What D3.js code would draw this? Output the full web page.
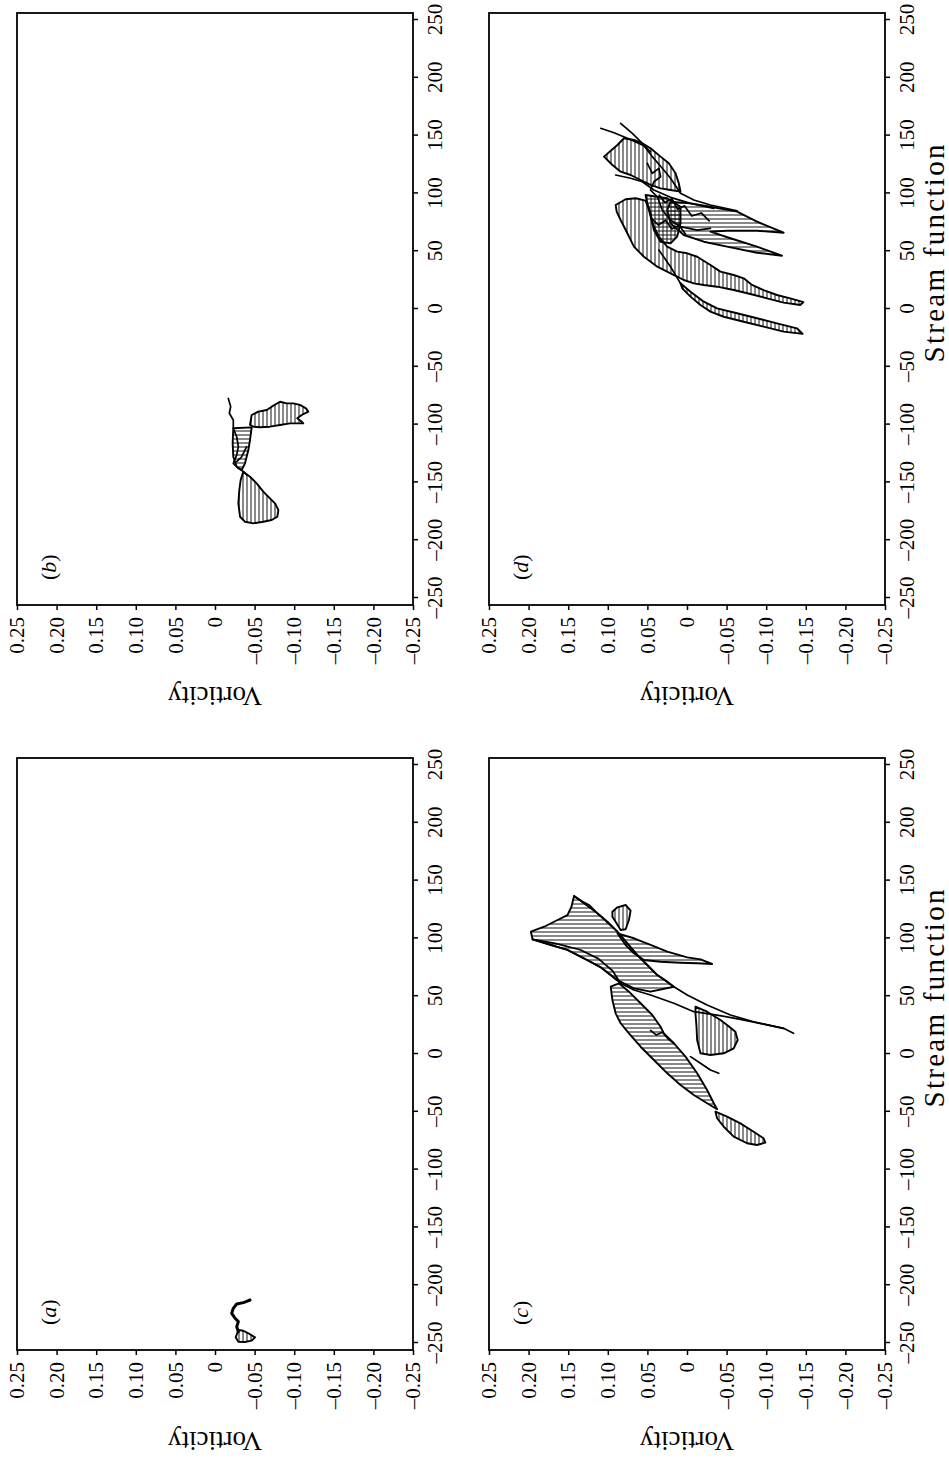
<!DOCTYPE html>
<html>
<head>
<meta charset="utf-8">
<script src="https://cdn.jsdelivr.net/npm/d3@7"></script>
<style>
  html, body { margin: 0; padding: 0; background: #fff; }
  svg { display: block; }
  text { font-family: "Liberation Serif", "Times New Roman", serif; fill: #000; }
</style>
</head>
<body>
<script>
// Axis ticks shared by all four panels
const streamTicks = [-250, -200, -150, -100, -50, 0, 50, 100, 150, 200, 250];
const vorticityTicks = [0.25, 0.20, 0.15, 0.10, 0.05, 0, -0.05, -0.10, -0.15, -0.20, -0.25];
const panelLetters = ["a", "b", "c", "d"];

// Each region is an outline of [stream function, vorticity] points; hatch direction per region
// ("h" = lines of constant vorticity, "v" = lines of constant stream function, "x" = both)

// (a)
const regionsA = [
  [[-238.8,-0.0295],[-239.4,-0.0358],[-241.6,-0.0421],[-245.1,-0.0505],[-248,-0.0463],[-249.1,-0.0379],[-248.9,-0.0295],[-245.1,-0.0261]]
];
const hatchA = ["h"];
const tracesA = [
  [[-212.8,-0.0442],[-214,-0.0400],[-215.1,-0.0358],[-216.3,-0.0274],[-220,-0.0231],[-224.3,-0.0211],[-228.6,-0.0253],[-231.5,-0.0295],[-235.9,-0.0274],[-240.2,-0.0295]]
];

// (b)
const regionsB = [
  [[-100.3,-0.0442],[-91.7,-0.0463],[-88.8,-0.0547],[-87.4,-0.0653],[-84.5,-0.0716],[-80.2,-0.0821],[-81.6,-0.0905],[-81.6,-0.0989],[-83,-0.1073],[-85.9,-0.1149],[-88.8,-0.1178],[-91.7,-0.1095],[-94.6,-0.1039],[-97.5,-0.1095],[-98.9,-0.1115],[-98.9,-0.1031],[-98.9,-0.0947],[-100.3,-0.0821],[-101.8,-0.0694],[-102.3,-0.0568],[-101.8,-0.0484]],
  [[-103.2,-0.0231],[-102.4,-0.0463],[-113.3,-0.0442],[-122,-0.0421],[-133.5,-0.0379],[-139.3,-0.0337],[-136.4,-0.0274],[-127.8,-0.0231],[-116.2,-0.0223]],
  [[-140.7,-0.0358],[-145.1,-0.0442],[-150.8,-0.0526],[-158,-0.061],[-163.8,-0.0694],[-168.1,-0.0758],[-173.9,-0.08],[-179.7,-0.0787],[-182.5,-0.0716],[-184,-0.061],[-185.4,-0.0484],[-184,-0.0379],[-179.7,-0.0316],[-168.1,-0.0295],[-156.6,-0.0307],[-148,-0.0324]]
];
const hatchB = ["h", "v", "h"];
const tracesB = [
  [[-77.3,-0.0168],[-84.5,-0.0198],[-90.2,-0.0181],[-96,-0.0231],[-103.2,-0.0231],[-110.5,-0.0274],[-119.1,-0.0295],[-126.3,-0.0274],[-133.5,-0.0231],[-137.8,-0.0295],[-140.7,-0.0358],[-143.6,-0.04]],
  [[-119.1,-0.04],[-127.8,-0.0337],[-132.1,-0.0274]]
];

// (c)
const regionsC = [
  [[105.8,0.1971],[110.1,0.1803],[115.9,0.1635],[120.2,0.1509],[127.4,0.1459],[136.7,0.1426],[131.8,0.132],[128.9,0.1237],[121.7,0.1131],[114.4,0.1005],[105.8,0.0879],[95.8,0.0753],[85.6,0.0627],[77,0.0501],[68.3,0.0375],[62.6,0.0249],[58.2,0.0166],[53.9,0.046],[56.8,0.067],[64,0.0879],[75,0.1089],[82.8,0.13],[90,0.1509],[94.3,0.1719],[99.2,0.195]],
  [[104.4,0.0879],[100.1,0.067],[94.3,0.046],[88.5,0.0249],[83.6,-0.0003],[81.9,-0.017],[77.9,-0.0317],[78.5,-0.0128],[79,0.0082],[79.8,0.0334],[81.3,0.0544],[87.1,0.067],[94.3,0.0775]],
  [[123.1,0.0942],[126.9,0.0879],[128.9,0.0775],[124,0.0712],[115.9,0.0733],[107.9,0.0775],[107.3,0.0838],[114.4,0.0901],[118.8,0.0942]],
  [[58.2,0.0963],[61.2,0.0859],[53.9,0.0733],[43.9,0.0586],[33.7,0.0438],[23.6,0.0334],[17.9,0.0292],[9.3,0.0166],[-2.3,0.0019],[-16.7,-0.0128],[-31.1,-0.0254],[-42.6,-0.0338],[-47.8,-0.038],[-42.6,-0.0254],[-35.5,-0.0086],[-26.8,0.0082],[-16.7,0.0249],[-5.2,0.0418],[6.3,0.0586],[17.9,0.0733],[26.6,0.0838],[35.2,0.0901],[46.7,0.0942]],
  [[-49.9,-0.0359],[-54.2,-0.0506],[-60,-0.0674],[-67.2,-0.0841],[-72.9,-0.0967],[-76.7,-0.0989],[-78.7,-0.0884],[-77.2,-0.0758],[-71.5,-0.059],[-62.9,-0.0464],[-55.6,-0.038]],
  [[40.9,-0.0107],[36.6,-0.0254],[29.4,-0.0422],[25.1,-0.0506],[19.3,-0.0611],[12.1,-0.064],[4.9,-0.059],[0.6,-0.0464],[-0.9,-0.0296],[0.6,-0.017],[12.1,-0.0128],[23.6,-0.012],[35.2,-0.0107]]
];
const hatchC = ["v", "v", "h", "v", "h", "h"];
const tracesC = [
  [[99.2,0.195],[90,0.1509],[75,0.1089],[61.2,0.0838],[55.4,0.067],[51,0.046],[43.9,0.0166],[36.6,-0.0086],[33.7,-0.038],[30,-0.0674],[25.9,-0.0967],[22.2,-0.1219],[17.9,-0.1345]],
  [[136.7,0.1426],[121.7,0.1131],[105.8,0.0879],[85.6,0.0627],[68.3,0.0375],[58.2,0.0166],[51,-0.0003],[42.4,-0.0254],[33.7,-0.0548],[27.9,-0.0841],[22.2,-0.1219]],
  [[99.2,0.195],[95.5,0.165],[90.2,0.135],[82.5,0.112],[72,0.094],[61.2,0.0838]],
  [[-2.3,-0.0044],[-8,-0.017],[-13.8,-0.0296],[-16.7,-0.0401]],
  [[20.5,0.046],[16.5,0.039],[18.8,0.031],[13.2,0.024],[9.3,0.0166]]
];

// (d)
const regionsD = [
  [[131.8,0.1048],[141.9,0.0879],[147.7,0.0796],[146.2,0.067],[143.3,0.0564],[139,0.046],[131.8,0.0334],[126,0.0229],[117.4,0.0145],[108.7,0.0103],[101.5,0.0082],[102.9,0.0208],[104.4,0.0334],[107.3,0.046],[111.6,0.0586],[115.9,0.0712],[118.8,0.0838],[124.6,0.0942]],
  [[90,0.0901],[94.9,0.0775],[95.8,0.0649],[93.7,0.0523],[85.6,0.0481],[74.1,0.0438],[62.6,0.0355],[53.9,0.025],[49.6,0.0124],[48.2,-0.0003],[45.2,-0.0129],[38.1,-0.0296],[32.3,-0.0422],[29.4,-0.059],[26.5,-0.0716],[20.8,-0.0821],[16.4,-0.0967],[12.1,-0.1136],[9.2,-0.1304],[6,-0.147],[3.5,-0.143],[5.5,-0.122],[9.2,-0.101],[13,-0.08],[16.4,-0.059],[19.3,-0.038],[20.8,-0.0212],[22.2,-0.0086],[25.1,0.004],[30.9,0.0208],[36.6,0.0375],[45.2,0.0544],[53.9,0.067],[65.5,0.0753],[77,0.0838],[84.2,0.0888]],
  [[22.2,0.0082],[15,-0.0044],[6.3,-0.0212],[0.6,-0.038],[-3.7,-0.0632],[-8,-0.0884],[-12.4,-0.1136],[-16.7,-0.1388],[-21.5,-0.146],[-19.6,-0.122],[-15.3,-0.0967],[-11,-0.0716],[-6.7,-0.0464],[-2.3,-0.0296],[3.5,-0.017],[10.7,-0.0044],[17.9,0.006]],
  [[92.8,0.0208],[91.4,-0.0044],[88.5,-0.0296],[84.2,-0.0632],[75.5,-0.0884],[66,-0.122],[67.7,-0.0884],[67.7,-0.0506],[66.9,-0.0296],[61.2,-0.0548],[53.9,-0.0884],[46.1,-0.1199],[48.7,-0.0884],[53.9,-0.0506],[58.2,-0.0212],[64,0.004],[74.1,0.0208],[85.6,0.025]],
  [[98.6,0.0523],[95.8,0.025],[88.5,0.0082],[74.1,0.0082],[62.6,0.0124],[56.8,0.0208],[58.2,0.0334],[68.3,0.0418],[82.8,0.046],[91.4,0.0501]]
];
const hatchD = ["h", "h", "h", "v", "x"];
const tracesD = [
  [[156.3,0.1089],[152.5,0.0922],[147.7,0.0753],[141.9,0.0564],[136.1,0.046]],
  [[160.6,0.0838],[152,0.069],[143.3,0.0564],[131.8,0.0438],[121.7,0.0312],[113.1,0.0208],[100.1,0.0082],[94.3,-0.0086],[90,-0.0296],[85,-0.0632]],
  [[115.9,0.0901],[113.1,0.0712],[110.1,0.0564],[102.9,0.0418],[96.6,0.0208],[91.4,-0.0044],[87.1,-0.0338]],
  [[126,0.0501],[117.4,0.0438],[121.7,0.0355],[114.4,0.0334],[110.1,0.0418],[102.9,0.046],[97.1,0.0375],[85.6,0.0312],[77,0.0208],[71.2,0.0082],[68.3,-0.0129],[69.8,-0.0296]],
  [[51,0.0355],[36.6,0.0208],[22.2,0.0082]],
  [[98.5,0.035],[92.1,0.028],[95.3,0.019],[86.4,0.012],[89.2,0.003],[80.5,-0.006],[83.1,-0.018],[76.2,-0.028]],
  [[78.4,0.045],[72.6,0.036],[76.8,0.027],[69.3,0.019],[72.5,0.010],[64.8,0.002]]
];

// ---------------------------------------------------------------
// The figure is laid out landscape (stream function across, vorticity up)
// and then turned a quarter turn counter-clockwise onto the portrait page.
const pageW = 949, pageH = 1458;
const panelW = 592, panelH = 396;
const colX = [108, 853], rowY = [17, 489];

const panels = [
  { letter: panelLetters[0], col: 0, row: 0, regions: regionsA, hatch: hatchA, traces: tracesA },
  { letter: panelLetters[1], col: 1, row: 0, regions: regionsB, hatch: hatchB, traces: tracesB },
  { letter: panelLetters[2], col: 0, row: 1, regions: regionsC, hatch: hatchC, traces: tracesC },
  { letter: panelLetters[3], col: 1, row: 1, regions: regionsD, hatch: hatchD, traces: tracesD }
];

const svg = d3.select("body").append("svg")
  .attr("width", pageW).attr("height", pageH)
  .attr("viewBox", `0 0 ${pageW} ${pageH}`);

svg.append("rect").attr("width", pageW).attr("height", pageH).attr("fill", "#fff");

const defs = svg.append("defs");
defs.append("pattern").attr("id", "hatch-h")
  .attr("patternUnits", "userSpaceOnUse").attr("width", 4).attr("height", 4)
  .append("path").attr("d", "M-1,2H5").attr("stroke", "#111").attr("stroke-width", 1);
defs.append("pattern").attr("id", "hatch-v")
  .attr("patternUnits", "userSpaceOnUse").attr("width", 4).attr("height", 4)
  .append("path").attr("d", "M2,-1V5").attr("stroke", "#111").attr("stroke-width", 1);

const root = svg.append("g").attr("transform", `translate(0,${pageH}) rotate(-90)`);

// negative numbers are set with a dash
const dash = s => s.replace(/[\u2212-]/, "\u2013");
const fmtVort = d => d === 0 ? "0" : dash(d3.format(".2f")(d));
const fmtStream = d => dash(d3.format("d")(d));

panels.forEach(p => {
  const g = root.append("g").attr("transform", `translate(${colX[p.col]},${rowY[p.row]})`);
  const x = d3.scaleLinear().domain([-250, 250]).range([7, panelW - 7]);
  const y = d3.scaleLinear().domain([-0.25, 0.25]).range([panelH, 0]);
  const line = d3.line().x(d => x(d[0])).y(d => y(d[1]));

  // hatched regions
  p.regions.forEach((pts, i) => {
    const kind = p.hatch[i];
    const fills = kind === "x" ? ["h", "v"] : [kind];
    fills.forEach(f => {
      g.append("path").attr("d", line(pts) + "Z")
        .attr("fill", `url(#hatch-${f})`).attr("stroke", "none");
    });
    g.append("path").attr("d", line(pts) + "Z")
      .attr("fill", "none").attr("stroke", "#000")
      .attr("stroke-width", 1.9).attr("stroke-linejoin", "round");
  });

  // open trajectory segments
  p.traces.forEach(pts => {
    g.append("path").attr("d", line(pts))
      .attr("fill", "none").attr("stroke", "#000")
      .attr("stroke-width", p.letter === "a" ? 3 : 1.7)
      .attr("stroke-linejoin", "round").attr("stroke-linecap", "round");
  });

  // frame
  g.append("rect").attr("width", panelW).attr("height", panelH)
    .attr("fill", "none").attr("stroke", "#000").attr("stroke-width", 1.8);

  // stream-function axis
  const ax = g.append("g").attr("transform", `translate(0,${panelH})`)
    .call(d3.axisBottom(x).tickValues(streamTicks).tickSize(5).tickSizeOuter(0)
      .tickPadding(9).tickFormat(fmtStream));
  // vorticity axis
  const ay = g.append("g")
    .call(d3.axisLeft(y).tickValues(vorticityTicks).tickSize(5).tickSizeOuter(0)
      .tickPadding(7).tickFormat(fmtVort));
  [ax, ay].forEach(a => {
    a.select(".domain").remove();
    a.selectAll(".tick line").attr("stroke", "#000").attr("stroke-width", 1.5);
    a.selectAll(".tick text")
      .attr("font-family", '"Liberation Serif", "Times New Roman", serif')
      .attr("font-size", 21).attr("fill", "#000");
  });

  // panel letter
  const lab = g.append("text").attr("x", 25).attr("y", 39).attr("font-size", 22);
  lab.append("tspan").text("(");
  lab.append("tspan").attr("font-style", "italic").text(p.letter);
  lab.append("tspan").text(")");

  // axis titles
  g.append("text")
    .attr("transform", `translate(-82,${y(0)}) rotate(-90)`)
    .attr("text-anchor", "middle").attr("font-size", 27)
    .text("Vorticity");
  if (p.row === 1) {
    g.append("text")
      .attr("x", x(48)).attr("y", 455)
      .attr("text-anchor", "middle").attr("font-size", 29)
      .attr("textLength", 218).attr("lengthAdjust", "spacing")
      .text("Stream function");
  }
});
</script>
</body>
</html>
